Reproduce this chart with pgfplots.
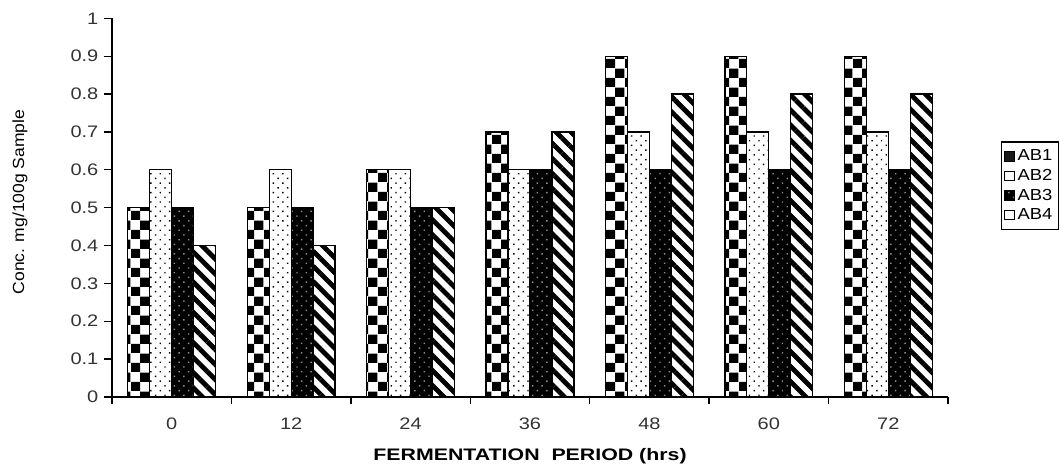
\documentclass[border=0pt]{standalone}
\usepackage{fontspec}
\setmainfont{Liberation Sans}
\usepackage{pgfplots}
\usepackage{pgfplotstable}
\pgfplotsset{compat=1.18}
\usetikzlibrary{patterns,patterns.meta}

\pgfdeclarepatternformonly{bigchecker}{\pgfpointorigin}{\pgfqpoint{14pt}{14pt}}{\pgfqpoint{14pt}{14pt}}{%
 \pgfpathrectangle{\pgfpointorigin}{\pgfqpoint{7pt}{7pt}}%
 \pgfpathrectangle{\pgfqpoint{7pt}{7pt}}{\pgfqpoint{7pt}{7pt}}%
 \pgfusepath{fill}}

\pgfplotstableread{
x ab1 ab2 ab3 ab4
0 0.5 0.6 0.5 0.4
1 0.5 0.6 0.5 0.4
2 0.6 0.6 0.5 0.5
3 0.7 0.6 0.6 0.7
4 0.9 0.7 0.6 0.8
5 0.9 0.7 0.6 0.8
6 0.9 0.7 0.6 0.8
}\data

\pgfplotsset{
  legsq/.style={legend image code/.code={\draw[draw=black, fill=#1, line width=0.7pt] (0pt,-3.6pt) rectangle (7pt,3.6pt);}}
}

\begin{document}
\begin{tikzpicture}
\begin{axis}[
  width=627pt, height=284pt, scale only axis,
  xmin=-0.5, xmax=6.5, ymin=0, ymax=1,
  axis x line*=bottom, axis y line*=left,
  axis line style={line width=1.1pt},
  ybar=0pt, bar width=0.184,
  xtick={0,1,2,3,4,5,6},
  xticklabels={0,12,24,36,48,60,72},
  major x tick style={draw=none},
  minor xtick={-0.5,0.5,1.5,2.5,3.5,4.5,5.5,6.5},
  minor x tick style={line width=1pt, black},
  ytick={0,0.1,0.2,0.3,0.4,0.5,0.6,0.7,0.8,0.9,1},
  yticklabels={0,0.1,0.2,0.3,0.4,0.5,0.6,0.7,0.8,0.9,1},
  y tick style={line width=1pt, black},
  tick align=outside,
  major tick length=6pt, minor tick length=5pt,
  tick label style={font=\fontsize{12.5}{14}\selectfont, xscale=1.2, text=black!80},
  /pgf/number format/assume math mode=true,
  x tick label style={yshift=-6pt},
  xlabel={FERMENTATION\ \ PERIOD (hrs)},
  xlabel style={font=\bfseries\fontsize{12.5}{14}\selectfont, xscale=1.28, at={(axis description cs:0.5,-0.156)}, anchor=center},
  ylabel={Conc. mg/100g Sample},
  ylabel style={font=\fontsize{10.5}{12}\selectfont, xscale=1.25, yscale=1.15, at={(axis description cs:-0.110,0.515)}, anchor=center},
  legend style={at={(axis description cs:1.0634,0.6755)}, anchor=north west, draw=black, line width=1pt,
    font=\fontsize{12}{14}\selectfont, row sep=0.8pt, inner ysep=4pt, inner xsep=2pt,
    nodes={xscale=1.15}},
  legend cell align=left,
  clip=false,
]
\addplot[draw=black, line width=0.9pt, pattern=bigchecker, legsq=black!90] table[x=x,y=ab1] {\data};
\addplot[draw=black, line width=0.9pt, pattern={Dots[distance=5pt, radius=0.75pt, angle=45]}, legsq=white] table[x=x,y=ab2] {\data};
\addplot[draw=black, line width=0.9pt, fill=black, postaction={pattern={Dots[distance=5pt, radius=0.75pt, angle=45]}, pattern color=black!45}, legsq=black] table[x=x,y=ab3] {\data};
\addplot[draw=black, line width=0.9pt, pattern={Lines[angle=-45, distance=8pt, line width=3.6pt]}, legsq=white] table[x=x,y=ab4] {\data};
\legend{AB1,AB2,AB3,AB4}
\coordinate (O) at (rel axis cs:0,0);
\end{axis}
\pgfresetboundingbox
\path (O) ++(-84pt,-51.75pt) rectangle ++(795pt,349.5pt);
\end{tikzpicture}
\end{document}
